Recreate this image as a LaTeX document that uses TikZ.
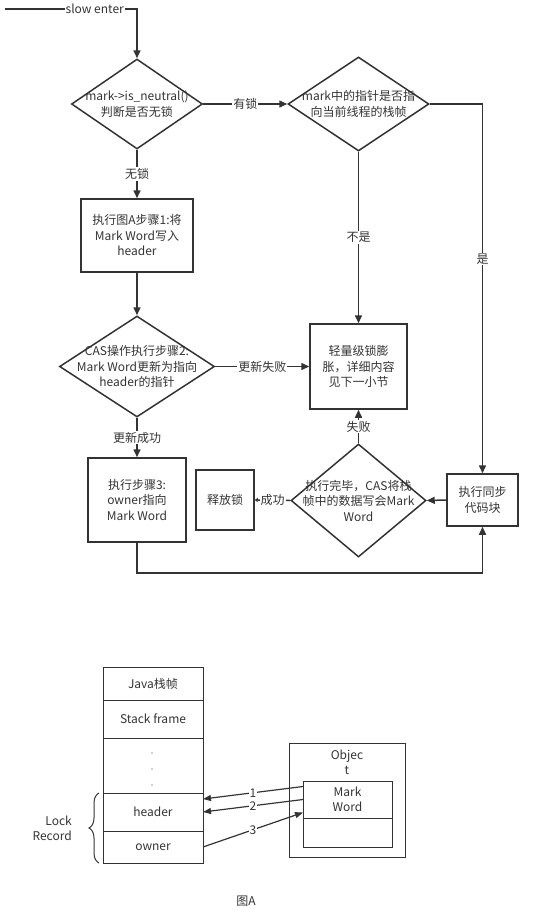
\documentclass[tikz,border=0pt]{standalone}
\usepackage{fontspec}
\setmainfont{Noto Sans CJK SC}
\usetikzlibrary{positioning,shapes,arrows.meta,decorations.pathreplacing}
\definecolor{ink}{HTML}{333333}

\begin{document}
\begin{tikzpicture}[x=1pt, y=-1pt, color=ink, font=\fontsize{12}{15.5}\selectfont]
\tikzstyle{box}=[draw, line width=1.5pt, align=center, inner sep=2pt]
\tikzstyle{dia}=[draw, diamond, line width=1.5pt, inner sep=0pt]
\tikzstyle{txt}=[align=center, inner sep=0pt]
\tikzstyle{lbl}=[midway, inner sep=1pt, fill=white]
\tikzstyle{arr}=[line width=1.5pt, -{Triangle[length=8pt,width=7pt]}]
\tikzstyle{tinyarr}=[line width=1.5pt, -{Triangle[length=3pt,width=4pt]}]
\tikzstyle{cell}=[draw, line width=1pt, minimum width=100pt, inner sep=0pt, outer sep=0pt]
\tikzstyle{parr}=[line width=1.2pt, -{Triangle[length=8pt,width=6pt]}]

\useasboundingbox (0,0) rectangle (560,914);

% flow chart
\coordinate (start) at (5,9);
\node[dia, minimum width=131pt, minimum height=90pt] (D1) at (137,104) {};
\node[txt] at (D1) {mark->is\_neutral()\\判断是否无锁};
\node[dia, minimum width=141pt, minimum height=94pt] (D2) at (358.5,104) {};
\node[txt] at (D2) {mark中的指针是否指\\向当前线程的栈帧};
\node[box, minimum width=112pt, minimum height=73pt] (B1) at (137,235.5) {执行图A步骤1:将\\Mark Word写入\\header};
\node[dia, minimum width=155pt, minimum height=101pt] (D3) at (137,366.5) {};
\node[txt] at (D3) {CAS操作执行步骤2:\\Mark Word更新为指向\\header的指针};
\node[box, minimum width=97pt, minimum height=85pt] (B2) at (358.5,366.5) {轻量级锁膨\\胀，详细内容\\见下一小节};
\node[box, minimum width=98pt, minimum height=84pt] (B3) at (137,500) {执行步骤3:\\owner指向\\Mark Word};
\node[box, minimum width=58pt, minimum height=60pt] (REL) at (225,500) {释放锁};
\node[dia, minimum width=135pt, minimum height=113pt] (D4) at (358.5,500.5) {};
\node[txt] at (D4) {执行完毕，CAS将栈\\帧中的数据写会Mark\\Word};
\node[box, minimum width=71pt, minimum height=52pt] (SYNC) at (482.5,500) {执行同步\\代码块};

\draw[arr] (start) -| node[lbl, pos=0.34]{slow enter} (D1.north);
\draw[arr] (D1.east) -- node[lbl]{有锁} (D2.west);
\draw[arr] (D1.south) -- node[lbl]{无锁} (B1.north);
\draw[arr] (D2.south) -- node[lbl]{不是} (B2.north);
\draw[arr] (D2.east) -| node[lbl, pos=0.71]{是} (SYNC.north);
\draw[arr] (B1.south) -- (D3.north);
\draw[arr] (D3.east) -- node[lbl]{更新失败} (B2.west);
\draw[arr] (D3.south) -- node[lbl]{更新成功} (B3.north);
\draw[arr] (D4.north) -- node[lbl]{失败} (B2.south);
\draw[tinyarr] (D4.west) -- node[lbl]{成功} (REL.east);
\draw[arr] (SYNC.west) -- (D4.east);
\draw[arr] (B3.south) -- ++(0,30) -| (SYNC.south);

% figure A
\node[cell, minimum height=33pt] (JAVA) at (153,683.5) {Java栈帧};
\node[cell, minimum height=38pt, below=0pt of JAVA] (SF) {Stack frame};
\node[cell, minimum height=55pt, below=0pt of SF] (DOTS) {};
\node[cell, minimum height=38pt, below=0pt of DOTS] (HDR) {header};
\node[cell, minimum height=32pt, below=0pt of HDR] (OWN) {owner};
\foreach \y in {753,769,785} \fill (152,\y) circle (0.6pt);
\draw[line width=1pt, decorate, decoration={brace, amplitude=10pt}] ([xshift=-4pt]OWN.south west) -- ([xshift=-4pt]HDR.north west);
\node[txt, align=right, anchor=east] (LR) at (72,828.5) {Lock\\Record};

\node[draw, line width=1pt, minimum width=116pt, minimum height=114pt] (OBJ) at (347,800) {};
\node[txt] (ONAME) at (347,762.5) {Objec\\t};
\node[draw, line width=1pt, minimum width=89pt, minimum height=37pt, align=center, inner sep=0pt, outer sep=0pt] (MW) at (347.5,799.5) {Mark\\Word};
\node[draw, line width=1pt, minimum width=89pt, minimum height=29pt, outer sep=0pt, below=0pt of MW] (EMPTY) {};

\draw[parr] ([yshift=13pt]MW.west) -- node[lbl]{1} ([yshift=13pt]HDR.east);
\draw[parr] (MW.west) -- node[lbl]{2} (HDR.east);
\draw[parr] (OWN.east) -- node[lbl]{3} ([yshift=-13pt]MW.west);
\node[txt] (FIGA) at (246,901) {图A};
\end{tikzpicture}
\end{document}
